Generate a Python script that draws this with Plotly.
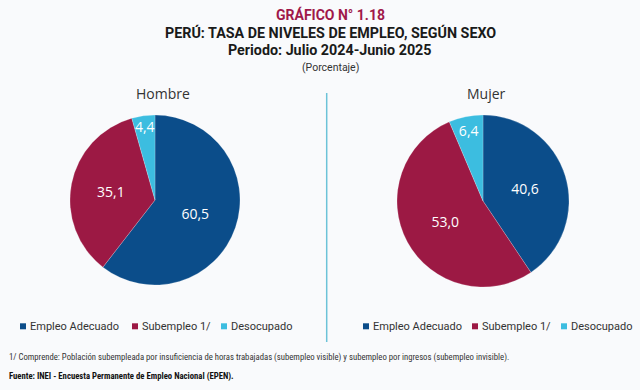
import plotly.graph_objects as go

categories = ["Empleo Adecuado", "Subempleo 1/", "Desocupado"]
hombre = [60.5, 35.1, 4.4]
mujer = [40.6, 53.0, 6.4]
colors = ["#0b4d8a", "#9c1944", "#3cbde0"]

W, H = 640, 390

def px(x):
    return x / W

def py(y):
    return 1 - y / H

fig = go.Figure()
for vals, name, dom in [
    (hombre, "Hombre", dict(x=[px(70), px(240)], y=[py(285), py(115)])),
    (mujer, "Mujer", dict(x=[px(397), px(569)], y=[py(287), py(115)])),
]:
    fig.add_trace(go.Pie(
        labels=categories, values=vals, name=name, sort=False,
        direction="clockwise", rotation=0,
        marker=dict(colors=colors, line=dict(color="rgba(255,255,255,0.4)", width=0.5)),
        texttemplate="%{value:.1f}", textposition="inside",
        insidetextorientation="horizontal",
        textfont=dict(color="white", size=14, family="Open Sans"),
        hoverinfo="label+value", domain=dom, showlegend=False,
    ))

title_font = "Roboto"
tx = px(330)
cond = "<span style='font-stretch:condensed'>{}</span>"
anns = [
    dict(x=tx, y=py(15), text="<b>GRÁFICO N° 1.18</b>", font=dict(size=14, color="#a0184a", family=title_font)),
    dict(x=tx, y=py(32), text="<b>PERÚ: TASA DE NIVELES DE EMPLEO, SEGÚN SEXO</b>", font=dict(size=14.3, color="#1a1a1a", family=title_font)),
    dict(x=tx, y=py(50), text="<b>Periodo: Julio 2024-Junio 2025</b>", font=dict(size=14.3, color="#1a1a1a", family=title_font)),
    dict(x=tx, y=py(67), text="(Porcentaje)", font=dict(size=10.5, color="#333333", family=title_font)),
    dict(x=px(163), y=py(93), text="Hombre", font=dict(size=14, color="#333333", family="Open Sans")),
    dict(x=px(486), y=py(93), text="Mujer", font=dict(size=14, color="#333333", family="Open Sans")),
    dict(x=px(7), y=py(357), xanchor="left",
         text=cond.format("1/ Comprende: Población subempleada por insuficiencia de horas trabajadas (subempleo visible) y subempleo por ingresos (subempleo invisible)."),
         font=dict(size=8.7, color="#333333", family="Roboto")),
    dict(x=px(7), y=py(376), xanchor="left",
         text=cond.format("<b>Fuente: INEI - Encuesta Permanente de Empleo Nacional (EPEN).</b>"),
         font=dict(size=8.7, color="#111111", family="Roboto")),
]

# manual legends (one per pie)
shapes = [dict(type="line", xref="paper", yref="paper", x0=px(326.7), x1=px(326.7),
               y0=py(93), y1=py(342), line=dict(color="#6cc3d8", width=1.5))]
legend_x = [[20, 132, 221], [363, 472, 561]]
for row in legend_x:
    for cat, col, x in zip(categories, colors, row):
        shapes.append(dict(type="rect", xref="paper", yref="paper",
                           x0=px(x), x1=px(x + 6), y0=py(329.3), y1=py(323.3),
                           fillcolor=col, line=dict(width=0)))
        anns.append(dict(x=px(x + 8), y=py(326), xanchor="left", text=cat,
                         font=dict(size=11, color="#333333", family="Roboto")))

for a in anns:
    a.setdefault("xanchor", "center")
    a.update(xref="paper", yref="paper", yanchor="middle", showarrow=False)

fig.update_layout(
    width=W, height=H,
    margin=dict(l=0, r=0, t=0, b=0, autoexpand=False),
    paper_bgcolor="#f9fafc", plot_bgcolor="#f9fafc",
    separators=",.",
    uniformtext=dict(minsize=14, mode="show"),
    annotations=anns,
    shapes=shapes,
    showlegend=False,
)

fig.write_html("out.html", config={"displayModeBar": False},
               post_script="document.body.style.margin='0';document.body.style.padding='0';document.body.style.background='#f9fafc';")
